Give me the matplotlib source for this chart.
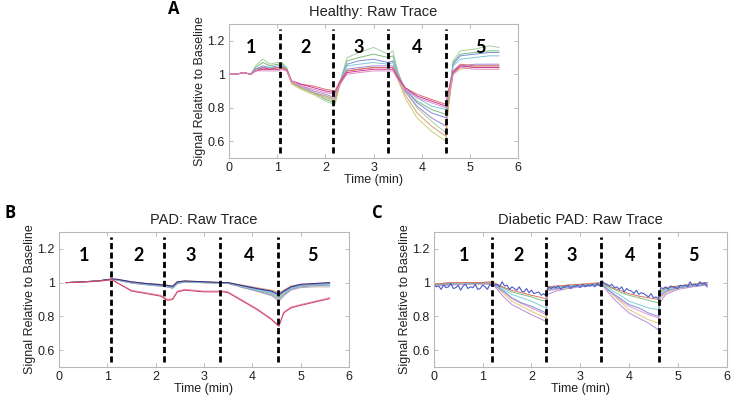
import numpy as np
import matplotlib
matplotlib.use("Agg")
import matplotlib.pyplot as plt

plt.rcParams['font.family'] = ['Liberation Sans', 'DejaVu Sans']

# ---------------- Panel A: Healthy ----------------
tA = [0, 0.15, 0.3, 0.45, 0.55, 0.7, 0.85, 1.0, 1.1, 1.2, 1.3, 1.5, 1.75, 2.0, 2.2,
      2.3, 2.45, 2.7, 3.0, 3.3, 3.4, 3.5, 3.65, 3.9, 4.2, 4.5, 4.55, 4.65, 4.8, 5.1, 5.4, 5.6]
A_green1 = [1.00, 1.00, 1.01, 1.00, 1.05, 1.09, 1.06, 1.07, 1.07, 1.04, 0.95, 0.91, 0.88, 0.84, 0.82,
            0.95, 1.10, 1.13, 1.16, 1.12, 1.14, 1.02, 0.90, 0.80, 0.72, 0.65, 0.80, 1.08, 1.14, 1.15, 1.17, 1.16]
A_green2 = [1.00, 1.00, 1.01, 1.00, 1.04, 1.07, 1.05, 1.06, 1.06, 1.03, 0.95, 0.92, 0.89, 0.85, 0.83,
            0.95, 1.08, 1.10, 1.12, 1.10, 1.11, 1.01, 0.91, 0.84, 0.79, 0.76, 0.85, 1.07, 1.12, 1.13, 1.14, 1.14]
A_blue = [1.00, 1.00, 1.01, 1.00, 1.03, 1.05, 1.04, 1.05, 1.05, 1.03, 0.95, 0.92, 0.89, 0.86, 0.84,
          0.95, 1.06, 1.08, 1.09, 1.07, 1.08, 1.00, 0.91, 0.83, 0.77, 0.74, 0.85, 1.06, 1.11, 1.12, 1.13, 1.13]
A_cyan = [1.00, 1.00, 1.01, 1.00, 1.03, 1.04, 1.04, 1.04, 1.04, 1.03, 0.95, 0.92, 0.89, 0.87, 0.85,
          0.95, 1.05, 1.06, 1.07, 1.06, 1.07, 1.00, 0.92, 0.86, 0.81, 0.79, 0.86, 1.05, 1.09, 1.10, 1.11, 1.11]
A_purple = [1.00, 1.00, 1.01, 1.00, 1.03, 1.04, 1.03, 1.04, 1.04, 1.02, 0.95, 0.93, 0.90, 0.88, 0.86,
            0.95, 1.03, 1.04, 1.05, 1.05, 1.05, 0.99, 0.90, 0.81, 0.74, 0.69, 0.82, 1.02, 1.05, 1.06, 1.06, 1.06]
A_olive = [1.00, 1.00, 1.01, 1.00, 1.02, 1.03, 1.03, 1.03, 1.03, 1.02, 0.94, 0.91, 0.88, 0.86, 0.84,
           0.93, 1.02, 1.03, 1.04, 1.04, 1.04, 0.97, 0.86, 0.74, 0.66, 0.60, 0.80, 1.00, 1.03, 1.04, 1.04, 1.04]
A_orange = [1.00, 1.00, 1.01, 1.00, 1.02, 1.03, 1.03, 1.04, 1.04, 1.02, 0.95, 0.92, 0.89, 0.87, 0.85,
            0.94, 1.02, 1.03, 1.04, 1.04, 1.04, 0.98, 0.88, 0.77, 0.69, 0.63, 0.82, 1.01, 1.04, 1.05, 1.05, 1.05]
A_red = [1.00, 1.00, 1.01, 1.00, 1.02, 1.04, 1.03, 1.04, 1.04, 1.03, 0.96, 0.94, 0.93, 0.91, 0.90,
         0.96, 1.02, 1.03, 1.04, 1.04, 1.04, 0.99, 0.92, 0.88, 0.85, 0.82, 0.90, 1.02, 1.06, 1.05, 1.05, 1.05]
A_magenta = [1.00, 1.00, 1.01, 1.00, 1.02, 1.03, 1.03, 1.03, 1.03, 1.02, 0.96, 0.94, 0.92, 0.90, 0.89,
             0.95, 1.01, 1.02, 1.03, 1.03, 1.03, 0.98, 0.92, 0.87, 0.84, 0.81, 0.89, 1.01, 1.05, 1.04, 1.04, 1.04]
A_pink = [1.00, 1.00, 1.01, 1.00, 1.02, 1.02, 1.02, 1.02, 1.03, 1.02, 0.96, 0.93, 0.91, 0.89, 0.88,
          0.94, 1.00, 1.01, 1.02, 1.02, 1.02, 0.97, 0.91, 0.86, 0.83, 0.80, 0.88, 1.00, 1.04, 1.03, 1.03, 1.03]
A_series = [A_green1, A_green2, A_blue, A_cyan, A_purple, A_olive, A_orange, A_red, A_magenta, A_pink]
A_colors = ['#a6cfa0', '#7dbb7d', '#7b8fdc', '#7cc8dc', '#a088d8', '#cfcf78', '#d8a070',
            '#e06a6a', '#c8389a', '#e08cc8']
A_dividers = [1.05, 2.15, 3.3, 4.5]
A_label_x = [0.46, 1.59, 2.70, 3.90, 5.22]

# ---------------- Panel B: PAD ----------------
tB = [0.15, 0.5, 0.8, 1.1, 1.2, 1.5, 1.8, 2.1, 2.25, 2.35, 2.45, 2.6, 3.0, 3.4, 3.5,
      3.8, 4.1, 4.4, 4.55, 4.65, 4.8, 5.0, 5.3, 5.6]
B_orange = [1.00, 1.005, 1.01, 1.022, 1.02, 1.005, 0.995, 0.99, 0.985, 0.98, 1.005, 1.01, 1.005, 1.00, 1.00,
            0.985, 0.97, 0.955, 0.94, 0.955, 0.98, 0.99, 0.995, 1.00]
B_navy = [1.00, 1.005, 1.01, 1.022, 1.02, 1.005, 0.995, 0.988, 0.983, 0.978, 1.005, 1.01, 1.005, 1.00, 1.00,
          0.982, 0.965, 0.95, 0.93, 0.95, 0.975, 0.99, 0.995, 1.00]
B_blue = [1.00, 1.005, 1.01, 1.02, 1.018, 1.003, 0.993, 0.985, 0.98, 0.975, 1.00, 1.008, 1.003, 1.00, 1.00,
          0.98, 0.962, 0.945, 0.925, 0.945, 0.972, 0.985, 0.99, 0.995]
B_cyan = [1.00, 1.005, 1.01, 1.02, 1.017, 1.00, 0.99, 0.983, 0.978, 0.972, 0.998, 1.006, 1.002, 0.998, 0.998,
          0.977, 0.958, 0.94, 0.918, 0.94, 0.968, 0.982, 0.988, 0.99]
B_green = [1.00, 1.005, 1.01, 1.02, 1.016, 1.00, 0.99, 0.982, 0.977, 0.97, 0.997, 1.005, 1.00, 0.998, 0.997,
           0.975, 0.955, 0.935, 0.91, 0.935, 0.965, 0.98, 0.985, 0.988]
B_purple = [1.00, 1.005, 1.01, 1.02, 1.015, 0.998, 0.988, 0.98, 0.975, 0.968, 0.995, 1.004, 1.00, 0.997, 0.996,
            0.972, 0.951, 0.928, 0.90, 0.928, 0.96, 0.976, 0.982, 0.985]
B_grey = [1.00, 1.005, 1.01, 1.02, 1.014, 0.997, 0.987, 0.978, 0.973, 0.966, 0.993, 1.003, 0.999, 0.996, 0.995,
          0.97, 0.948, 0.922, 0.89, 0.92, 0.955, 0.97, 0.975, 0.975]
B_red = [1.00, 1.003, 1.008, 1.018, 1.00, 0.95, 0.935, 0.92, 0.895, 0.90, 0.945, 0.955, 0.945, 0.945, 0.94,
         0.89, 0.84, 0.78, 0.74, 0.82, 0.85, 0.865, 0.885, 0.905]
B_pink = [1.00, 1.003, 1.008, 1.016, 0.998, 0.955, 0.94, 0.925, 0.90, 0.905, 0.95, 0.96, 0.95, 0.95, 0.945,
          0.895, 0.845, 0.785, 0.745, 0.825, 0.855, 0.87, 0.89, 0.91]
B_series = [B_grey, B_purple, B_green, B_cyan, B_blue, B_orange, B_navy, B_pink, B_red]
B_colors = ['#b0b0b0', '#a088d8', '#8cc48c', '#7cc8dc', '#7b8fdc', '#d8a070', '#2a2a8c',
            '#e88cb0', '#d04060']
B_dividers = [1.08, 2.18, 3.33, 4.54]
B_label_x = [0.52, 1.64, 2.72, 3.94, 5.25]

# ---------------- Panel C: Diabetic PAD ----------------
tC = [0, 0.3, 0.6, 0.9, 1.2, 1.3, 1.45, 1.6, 1.8, 2.0, 2.15, 2.3, 2.33, 2.5, 2.75, 3.0, 3.2, 3.45,
      3.55, 3.7, 3.85, 4.0, 4.2, 4.4, 4.6, 4.63, 4.75, 5.0, 5.3, 5.6]
C_purple = [0.98, 0.985, 0.99, 0.99, 0.99, 0.96, 0.91, 0.87, 0.84, 0.81, 0.79, 0.77, 0.93, 0.95, 0.965,
            0.975, 0.98, 0.985, 0.95, 0.90, 0.86, 0.82, 0.79, 0.76, 0.72, 0.88, 0.93, 0.96, 0.975, 0.985]
C_yellow = [0.99, 0.99, 0.995, 0.99, 0.995, 0.97, 0.93, 0.89, 0.86, 0.83, 0.81, 0.79, 0.95, 0.96, 0.97,
            0.98, 0.985, 0.99, 0.96, 0.92, 0.88, 0.84, 0.81, 0.78, 0.76, 0.90, 0.94, 0.965, 0.98, 0.99]
C_pink = [0.985, 0.99, 0.99, 0.995, 0.995, 0.97, 0.94, 0.905, 0.875, 0.85, 0.83, 0.81, 0.955, 0.96, 0.975,
          0.98, 0.985, 0.99, 0.96, 0.925, 0.89, 0.86, 0.835, 0.81, 0.79, 0.91, 0.945, 0.97, 0.98, 0.99]
C_blue = [0.99, 0.99, 0.995, 0.995, 1.00, 0.975, 0.945, 0.91, 0.88, 0.86, 0.84, 0.82, 0.96, 0.965, 0.975,
          0.98, 0.985, 0.99, 0.965, 0.93, 0.90, 0.87, 0.85, 0.82, 0.80, 0.92, 0.95, 0.97, 0.98, 0.99]
C_cyan = [0.99, 0.995, 0.995, 1.00, 1.00, 0.98, 0.955, 0.93, 0.91, 0.89, 0.87, 0.85, 0.965, 0.97, 0.98,
          0.985, 0.99, 0.995, 0.975, 0.945, 0.92, 0.89, 0.87, 0.85, 0.84, 0.93, 0.96, 0.975, 0.985, 0.995]
C_green = [0.99, 0.995, 1.00, 1.00, 1.00, 0.985, 0.965, 0.945, 0.93, 0.915, 0.90, 0.89, 0.97, 0.975, 0.985,
           0.99, 0.99, 1.00, 0.98, 0.96, 0.94, 0.925, 0.91, 0.895, 0.88, 0.94, 0.965, 0.98, 0.99, 1.00]
C_red = [0.99, 1.00, 1.00, 1.00, 1.005, 0.99, 0.97, 0.955, 0.94, 0.925, 0.915, 0.905, 0.975, 0.98, 0.985,
         0.99, 0.995, 1.00, 0.985, 0.965, 0.95, 0.935, 0.92, 0.91, 0.90, 0.95, 0.97, 0.98, 0.99, 1.00]
C_series = [C_purple, C_yellow, C_pink, C_blue, C_cyan, C_green, C_red]
C_colors = ['#b48ce0', '#e0c870', '#e89ac8', '#7b8fdc', '#7cd0d8', '#7cc07c', '#e07060']

tC_noisy = np.linspace(0, 5.6, 113)
C_noisy = [0.99, 0.975, 0.98, 0.96, 0.985, 0.97, 0.975, 0.995, 0.965, 0.97, 0.985, 0.955, 0.98, 0.99, 0.965,
           0.975, 0.97, 0.99, 0.96, 0.965, 0.985, 0.975, 0.96, 0.99, 0.98,
           0.985, 0.99, 0.975, 1.005, 0.98, 0.985, 0.96, 0.975, 0.965, 0.955, 0.975, 0.95, 0.945, 0.965, 0.94,
           0.955, 0.935, 0.94, 0.945, 0.925, 0.935, 0.92,
           0.975, 0.965, 0.975, 0.97, 0.98, 0.96, 0.975, 0.975, 0.985, 0.965, 0.975, 0.98, 0.985, 0.97, 0.99,
           0.975, 0.985, 0.98, 0.99, 0.975, 0.995, 0.98,
           1.01, 0.995, 0.99, 0.98, 0.99, 0.97, 0.975, 0.96, 0.975, 0.945, 0.965, 0.955, 0.95, 0.935, 0.955,
           0.93, 0.94, 0.935, 0.925, 0.915, 0.935, 0.91, 0.915, 0.905,
           0.97, 0.965, 0.975, 0.96, 0.98, 0.975, 0.97, 0.965, 0.985, 0.98, 0.985, 0.975, 1.005, 0.985, 0.99,
           0.98, 1.005, 0.99, 1.0, 0.975]
C_dividers = [1.19, 2.30, 3.43, 4.62]
C_label_x = [0.63, 1.74, 2.83, 4.02, 5.32]

phase_labels = ['1', '2', '3', '4', '5']
x_ticks = [0, 1, 2, 3, 4, 5, 6]
y_ticks = [0.6, 0.8, 1.0, 1.2]
y_tick_labels = ['0.6', '0.8', '1', '1.2']

fig = plt.figure(figsize=(7.34, 4.0), dpi=100)


def style_axes(ax, title, dividers, label_x):
    ax.set_xlim(0, 6)
    ax.set_ylim(0.5, 1.3)
    ax.set_xticks(x_ticks)
    ax.set_yticks(y_ticks)
    ax.set_yticklabels(y_tick_labels)
    ax.tick_params(direction='in', length=3, width=0.6, top=True, right=True,
                   labelsize=9, colors='#b0b0b0', labelcolor='#222222', pad=3)
    for s in ax.spines.values():
        s.set_color('#b8b8b8')
        s.set_linewidth(0.8)
    ax.set_title(title, fontsize=10.5, color='#222222', pad=6)
    ax.set_xlabel('Time (min)', fontsize=9, color='#222222', labelpad=0)
    ax.set_ylabel('Signal Relative to Baseline', fontsize=9, color='#222222', labelpad=1)
    ax.vlines(dividers, 0.53, 1.27, colors='black', linestyles=(0, (2.2, 1.2)), linewidth=2.0, zorder=5)
    for lx, lab in zip(label_x, phase_labels):
        ax.text(lx, 1.16, lab, fontsize=13, fontweight='bold', family='Lato',
                ha='center', va='center', color='black')


axA = fig.add_axes([0.312, 0.605, 0.394, 0.335])
for ys, c in zip(A_series, A_colors):
    axA.plot(tA, ys, color=c, linewidth=0.7)
style_axes(axA, 'Healthy: Raw Trace', A_dividers, A_label_x)

axB = fig.add_axes([0.0804, 0.0825, 0.395, 0.3375])
for ys, c in zip(B_series, B_colors):
    axB.plot(tB, ys, color=c, linewidth=0.7)
style_axes(axB, 'PAD: Raw Trace', B_dividers, B_label_x)

axC = fig.add_axes([0.591, 0.0825, 0.399, 0.3375])
for ys, c in zip(C_series, C_colors):
    axC.plot(tC, ys, color=c, linewidth=0.7)
axC.plot(tC_noisy, C_noisy, color='#4a5ccc', linewidth=0.8)
style_axes(axC, 'Diabetic PAD: Raw Trace', C_dividers, C_label_x)

fig.text(174 / 734, 1 - 9 / 400, 'A', fontsize=12, fontweight='bold', family='Open Sans', ha='center', va='center')
fig.text(10 / 734, 1 - 213 / 400, 'B', fontsize=12, fontweight='bold', family='Open Sans', ha='center', va='center')
fig.text(377 / 734, 1 - 213 / 400, 'C', fontsize=12, fontweight='bold', family='Open Sans', ha='center', va='center')

fig.savefig('out.png', dpi=100)
